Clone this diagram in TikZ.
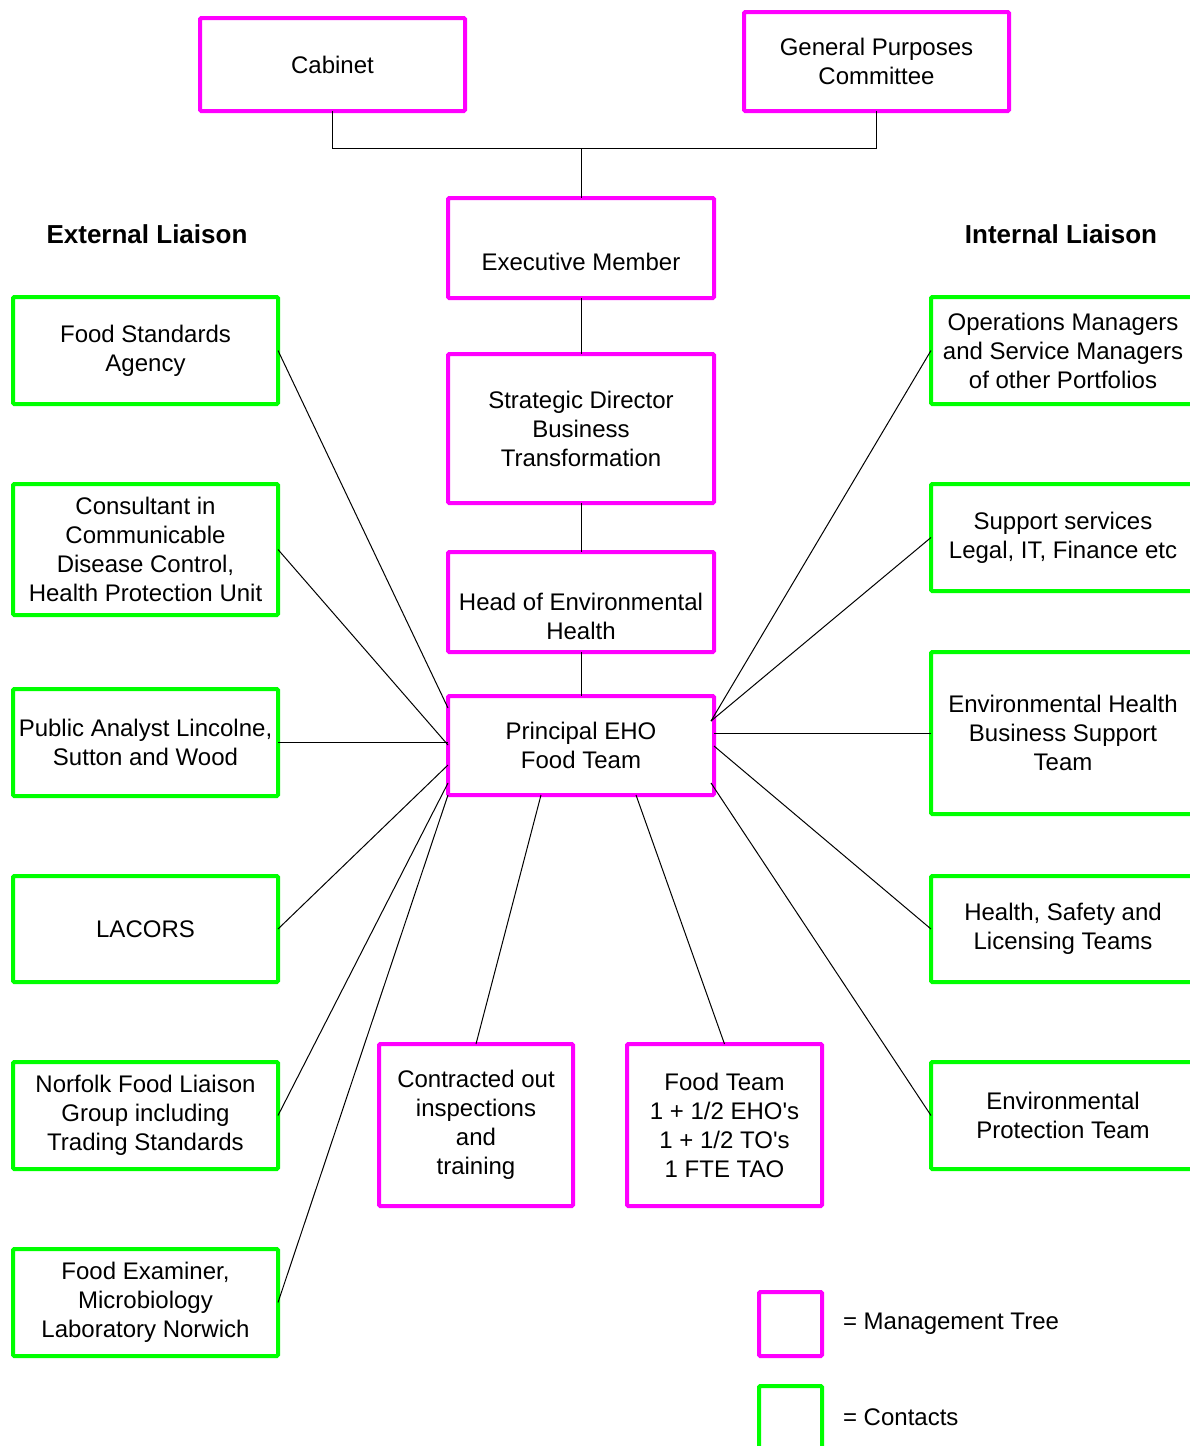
\documentclass[tikz,border=0pt]{standalone}
\usepackage{fontspec}
\setmainfont{Liberation Sans}[Ligatures=TeXOff]
\usetikzlibrary{calc}
\definecolor{mgmt}{RGB}{255,0,255}
\definecolor{cont}{RGB}{0,255,0}
\begin{document}
\begin{tikzpicture}[x=0.5pt,y=-0.5pt,
  txt/.style={font=\fontsize{12pt}{14.5pt}\selectfont, align=center, text=black},
  boxbase/.style={draw, line width=2pt, rounded corners=0.6pt, inner sep=0pt, outer sep=0pt, fill=white, txt},
  mbox/.style={boxbase, draw=mgmt},
  cbox/.style={boxbase, draw=cont},
  conn/.style={draw=black, line width=0.5pt},
  heading/.style={font=\fontsize{13pt}{15pt}\selectfont\bfseries}]
\useasboundingbox (0,0) rectangle (1189,1446);
% management tree
\node[mbox, minimum width=265*0.5pt, minimum height=93*0.5pt] (cab) at (332.5,64.5) {Cabinet};
\node[mbox, minimum width=265*0.5pt, minimum height=99*0.5pt] (gpc) at (876.5,61.5) {General Purposes\\Committee};
\node[mbox, minimum width=266*0.5pt, minimum height=100*0.5pt] (exec) at (581,248) {};
\node[txt] at (581,262) {Executive Member};
\node[mbox, minimum width=266*0.5pt, minimum height=149*0.5pt] (strat) at (581,428.5) {Strategic Director\\Business\\Transformation};
\node[mbox, minimum width=266*0.5pt, minimum height=100*0.5pt] (head) at (581,602) {};
\node[txt] at (581,616) {Head of Environmental\\Health};
\node[mbox, minimum width=266*0.5pt, minimum height=99*0.5pt] (pe) at (581,745.5) {Principal EHO\\Food Team};
\node[mbox, minimum width=194*0.5pt, minimum height=162*0.5pt] (con) at (476,1125) {Contracted out\\inspections\\and\\training};
\node[mbox, minimum width=195*0.5pt, minimum height=162*0.5pt] (ft) at (724.5,1125) {Food Team\\1 + 1/2 EHO's\\1 + 1/2 TO's\\1 FTE TAO};
% headings
\node[heading] (exth) at (147,234) {External Liaison};
\node[heading] (inth) at (1061,234) {Internal Liaison};
% left contacts
\node[cbox, minimum width=265*0.5pt, minimum height=107*0.5pt] (fsa) at (145.5,350.5) {Food Standards\\Agency};
\node[cbox, minimum width=265*0.5pt, minimum height=131*0.5pt] (cons) at (145.5,549.5) {Consultant in\\Communicable\\Disease Control,\\Health Protection Unit};
\node[cbox, minimum width=265*0.5pt, minimum height=107*0.5pt] (pa) at (145.5,742.5) {Public Analyst Lincolne,\\Sutton and Wood};
\node[cbox, minimum width=265*0.5pt, minimum height=106*0.5pt] (lac) at (145.5,929) {LACORS};
\node[cbox, minimum width=265*0.5pt, minimum height=107*0.5pt] (nor) at (145.5,1115.5) {Norfolk Food Liaison\\Group including\\Trading Standards};
\node[cbox, minimum width=265*0.5pt, minimum height=107*0.5pt] (fe) at (145.5,1302.5) {Food Examiner,\\Microbiology\\Laboratory Norwich};
% right contacts
\node[cbox, minimum width=264*0.5pt, minimum height=107*0.5pt] (ops) at (1063,350.5) {Operations Managers\\and Service Managers\\of other Portfolios};
\node[cbox, minimum width=264*0.5pt, minimum height=107*0.5pt] (sup) at (1063,537.5) {Support services\\Legal, IT, Finance etc};
\node[cbox, minimum width=264*0.5pt, minimum height=162*0.5pt] (ehbs) at (1063,733) {Environmental Health\\Business Support\\Team};
\node[cbox, minimum width=264*0.5pt, minimum height=106*0.5pt] (hsl) at (1063,929) {Health, Safety and\\Licensing Teams};
\node[cbox, minimum width=264*0.5pt, minimum height=107*0.5pt] (ept) at (1063,1115.5) {Environmental\\Protection Team};
% legend
\node[mbox, minimum width=63*0.5pt, minimum height=64*0.5pt] (lm) at (790.5,1324) {};
\node[cbox, minimum width=63*0.5pt, minimum height=64*0.5pt] (lc) at (790.5,1418) {};
\node[txt, anchor=west] (lmt) at (836,1324) {= Management Tree};
\node[txt, anchor=west] (lct) at (836,1417) {= Contacts};
% connectors (management)
\coordinate (j) at (581,148);
\draw[conn] (cab.south) -- (cab.south |- j) -- (gpc.south |- j) -- (gpc.south);
\draw[conn] (j) -- (exec.north);
\draw[conn] (exec.south) -- (strat.north);
\draw[conn] (strat.south) -- (head.north);
\draw[conn] (head.south) -- (pe.north);
% left connectors
\draw[conn] (fsa.east) -- ($(pe.north west)+(0,12)$);
\draw[conn] (cons.east) -- ($(pe.north west)+(0,49)$);
\draw[conn] (pa.east) -- (pe.west |- pa.east);
\draw[conn] (lac.east) -- ($(pe.north west)+(0,69)$);
\draw[conn] (nor.east) -- ($(pe.north west)+(0,87)$);
\draw[conn] (fe.east) -- (pe.south west);
% bottom connectors
\draw[conn] (con.north) -- ($(pe.south west)+(93,0)$);
\draw[conn] (ft.north) -- ($(pe.south west)+(188,0)$);
% right connectors
\draw[conn] (ops.west) -- ($(pe.north east)+(-3,25)$);
\draw[conn] (sup.west) -- ($(pe.north east)+(-3,25)$);
\draw[conn] (ehbs.west) -- (pe.east |- ehbs.west);
\draw[conn] (hsl.west) -- ($(pe.north east)+(0,50)$);
\draw[conn] (ept.west) -- ($(pe.north east)+(-3,87)$);
\end{tikzpicture}
\end{document}
